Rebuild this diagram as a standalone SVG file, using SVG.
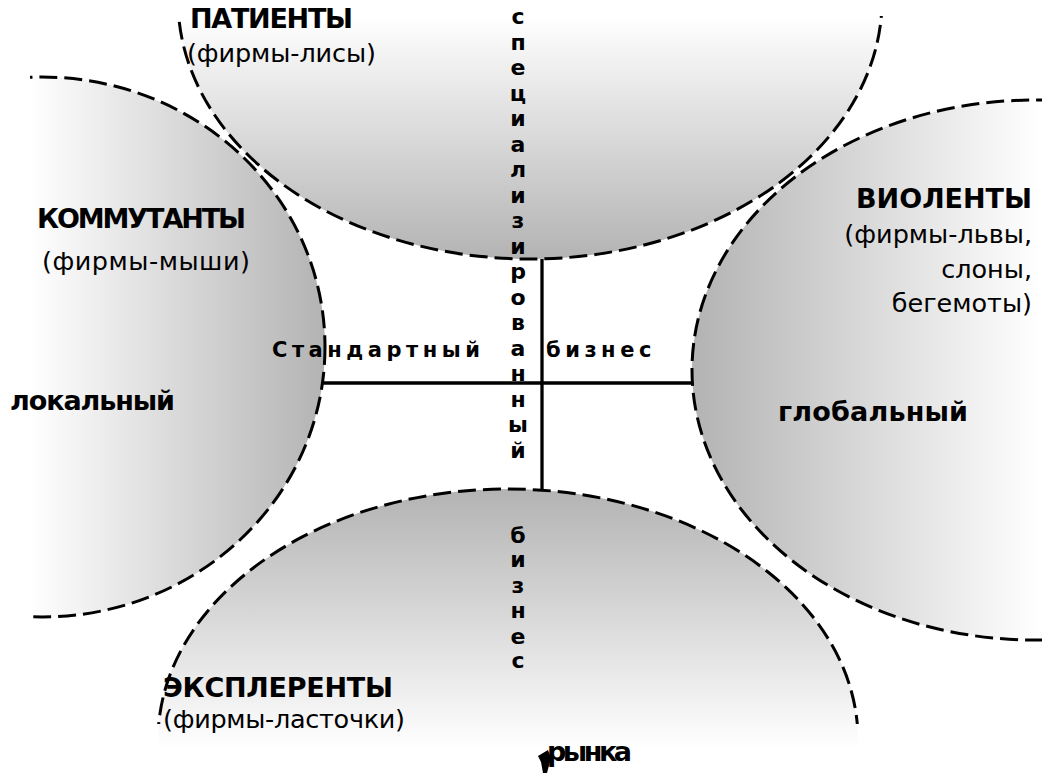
<svg xmlns="http://www.w3.org/2000/svg" width="1044" height="775" viewBox="0 0 1044 775">
<defs>
  <linearGradient id="gTop" gradientUnits="userSpaceOnUse" x1="0" y1="16" x2="0" y2="259">
    <stop offset="0" stop-color="#ffffff"/><stop offset="1" stop-color="#b3b3b3"/>
  </linearGradient>
  <linearGradient id="gLeft" gradientUnits="userSpaceOnUse" x1="30" y1="0" x2="325" y2="0">
    <stop offset="0" stop-color="#ffffff"/><stop offset="1" stop-color="#b3b3b3"/>
  </linearGradient>
  <linearGradient id="gRight" gradientUnits="userSpaceOnUse" x1="692" y1="0" x2="1040" y2="0">
    <stop offset="0" stop-color="#b3b3b3"/><stop offset="1" stop-color="#ffffff"/>
  </linearGradient>
  <linearGradient id="gBottom" gradientUnits="userSpaceOnUse" x1="0" y1="489" x2="0" y2="748">
    <stop offset="0" stop-color="#b3b3b3"/><stop offset="1" stop-color="#ffffff"/>
  </linearGradient>
  <clipPath id="page"><rect x="30" y="16" width="1012" height="708"/></clipPath>
</defs>
<style>
  .fill{stroke:none}
  .oval{fill:none;stroke:#000;stroke-width:3;stroke-dasharray:18 7}
  .axis{stroke:#000;stroke-width:3.3;fill:none}
  .b{font-family:"DejaVu Sans","Liberation Sans",sans-serif;font-weight:bold;font-size:27px;fill:#000}
  .r{font-family:"DejaVu Sans","Liberation Sans",sans-serif;font-size:25.5px;fill:#000}
  .s{font-family:"DejaVu Sans","Liberation Sans",sans-serif;font-weight:bold;font-size:21px;letter-spacing:-1.4px;fill:#000}
  .v{font-family:"DejaVu Sans","Liberation Sans",sans-serif;font-weight:bold;font-size:22px;text-anchor:middle;fill:#000}
  .end{text-anchor:end}
</style>
<rect width="1044" height="775" fill="#ffffff"/>

<g id="kommutanty">
  <ellipse class="fill" cx="42" cy="347" rx="283" ry="270" fill="url(#gLeft)"/>
  <ellipse class="oval" cx="42" cy="347" rx="283" ry="270" clip-path="url(#page)"/>
  <text class="b" x="37" y="228" textLength="209">КОММУТАНТЫ</text>
  <text class="r" x="42" y="270" textLength="208">(фирмы-мыши)</text>
</g>

<g id="patienty">
  <ellipse class="fill" cx="530" cy="0" rx="352" ry="259" fill="url(#gTop)"/>
  <ellipse class="oval" cx="530" cy="0" rx="352" ry="259" clip-path="url(#page)"/>
  <text class="b" x="190" y="28" textLength="163">ПАТИЕНТЫ</text>
  <text class="r" x="187" y="62" textLength="189">(фирмы-лисы)</text>
</g>

<g id="violenty">
  <ellipse class="fill" cx="1035" cy="370" rx="343" ry="270" fill="url(#gRight)"/>
  <ellipse class="oval" cx="1035" cy="370" rx="343" ry="270" clip-path="url(#page)"/>
  <text class="b" x="856" y="208" textLength="176">ВИОЛЕНТЫ</text>
  <text class="r end" x="1032" y="243">(фирмы-львы,</text>
  <text class="r end" x="1032" y="278">слоны,</text>
  <text class="r end" x="1032" y="312">бегемоты)</text>
</g>

<g id="eksplerenty">
  <ellipse class="fill" cx="508" cy="740" rx="350" ry="251" fill="url(#gBottom)"/>
  <ellipse class="oval" cx="508" cy="740" rx="350" ry="251" clip-path="url(#page)"/>
  <text class="b" x="163" y="697" textLength="230">ЭКСПЛЕРЕНТЫ</text>
  <text class="r" x="163" y="728" textLength="242">(фирмы-ласточки)</text>
</g>

<g id="connectors">
  <line class="axis" x1="323" y1="383" x2="692" y2="383"/>
  <line class="axis" x1="542" y1="259" x2="542" y2="490"/>
</g>

<g id="axis-labels">
  <text class="s" x="272" y="357">С т а н д а р т н ы й</text>
  <text class="s" x="546" y="357">б и з н е с</text>
  <text class="v"><tspan x="518" y="24">с</tspan><tspan x="518" y="49.5">п</tspan><tspan x="518" y="75">е</tspan><tspan x="518" y="100.5">ц</tspan><tspan x="518" y="126">и</tspan><tspan x="518" y="151.5">а</tspan><tspan x="518" y="177">л</tspan><tspan x="518" y="202.5">и</tspan><tspan x="518" y="228">з</tspan><tspan x="518" y="253.5">и</tspan><tspan x="518" y="279">р</tspan><tspan x="518" y="304.5">о</tspan><tspan x="518" y="330">в</tspan><tspan x="518" y="355.5">а</tspan><tspan x="518" y="381">н</tspan><tspan x="518" y="406.5">н</tspan><tspan x="518" y="432">ы</tspan><tspan x="518" y="457.5">й</tspan></text>
  <text class="v"><tspan x="518" y="543">б</tspan><tspan x="518" y="567">и</tspan><tspan x="518" y="593">з</tspan><tspan x="518" y="618">н</tspan><tspan x="518" y="644">е</tspan><tspan x="518" y="668">с</tspan></text>
  <text class="b" x="10" y="410" textLength="165">локальный</text>
  <text class="b" x="778" y="421" textLength="190">глобальный</text>
  <text class="b" x="547" y="761" font-size="25" textLength="85">рынка</text>
  <path d="M538,756 L548,750 L551,758 L547,773 L543,773 L541,762 Z" fill="#000"/>
</g>
</svg>
